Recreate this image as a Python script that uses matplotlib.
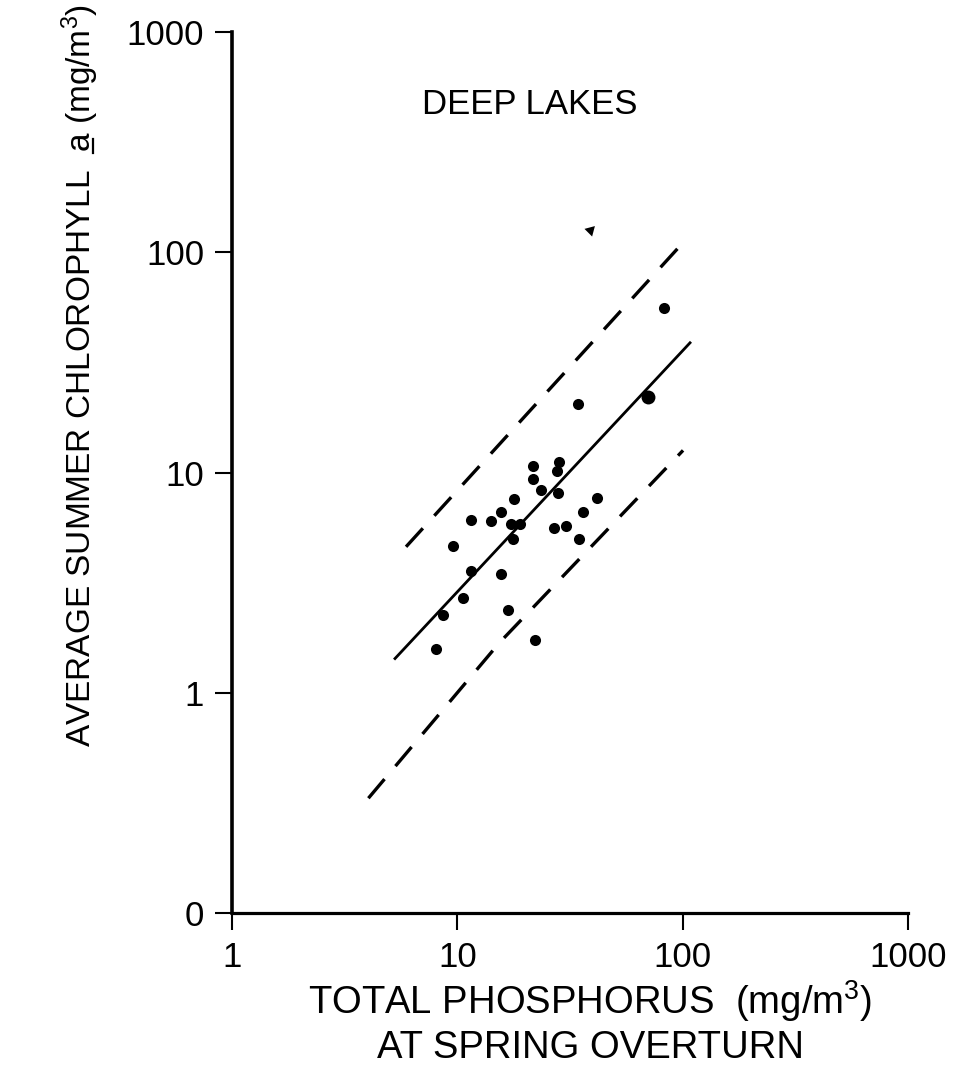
import numpy as np
import matplotlib.pyplot as plt
from matplotlib.lines import Line2D

plt.rcParams['font.family'] = ['Liberation Sans', 'DejaVu Sans']
plt.rcParams['mathtext.fontset'] = 'custom'
plt.rcParams['mathtext.rm'] = 'Liberation Sans'
plt.rcParams['mathtext.it'] = 'Liberation Sans'

# lake data: total phosphorus vs summer chlorophyll a
tp = [34.4, 70.0, 83.0, 21.6, 28.4, 27.6, 21.6, 23.5, 28.1, 41.6, 17.9, 15.6,
      36.3, 11.5, 14.1, 17.3, 18.9, 26.9, 30.4, 34.8, 17.6, 9.54, 11.5, 15.6,
      10.6, 8.67, 16.8, 8.04, 22.1]
chl = [20.4, 22.1, 56.1, 10.7, 11.2, 10.2, 9.3, 8.3, 8.04, 7.7, 7.6, 6.63,
       6.59, 6.08, 6.0, 5.83, 5.83, 5.57, 5.71, 5.0, 4.97, 4.65, 3.58, 3.46,
       2.70, 2.25, 2.37, 1.58, 1.73]
point_size = [8, 10, 8, 8, 8, 8, 8, 8, 8, 8, 8, 8, 8, 8, 8, 8, 8, 8, 8, 8,
              8, 8, 8, 8, 8, 8, 8, 8, 8]

# off-scale marker
arrow_tp, arrow_chl = 38.8, 126

# regression line and hand-drawn confidence band
fit_tp = [5.29, 107.8]
fit_chl = [1.43, 38.8]
upper_tp = [5.92, 100.7]
upper_chl = [4.60, 111]
lower_tp = [4.03, 15.4, 100.4]
lower_chl = [0.332, 1.69, 12.6]

ticks = [0.1, 1, 10, 100, 1000]
ytick_labels = ['0', '1', '10', '100', '1000']
xticks = [1, 10, 100, 1000]
xtick_labels = ['1', '10', '100', '1000']

ylab_pre = 'AVERAGE SUMMER CHLOROPHYLL  '
ylab_a = 'a'
ylab_post = ' (mg/m$^3$)'

fig = plt.figure(figsize=(9.63, 10.88), dpi=100)
ax = fig.add_axes([232 / 963, 1 - 913 / 1088, (908 - 232) / 963, (913 - 32) / 1088])
ax.set_xscale('log')
ax.set_yscale('log')
ax.set_xlim(1, 1000)
ax.set_ylim(0.1, 1000)

for x, y, s in zip(tp, chl, point_size):
    ax.plot(x, y, 'o', color='black', markersize=s, markeredgewidth=0)
ax.plot(arrow_tp, arrow_chl, marker=(3, 0, 75), color='black', markersize=9,
        markeredgewidth=0)

dash = (0, (7.5, 5.1))
ax.plot(fit_tp, fit_chl, color='black', lw=2)
ax.plot(upper_tp, upper_chl, color='black', lw=2.4, ls=dash)
ax.plot(lower_tp, lower_chl, color='black', lw=2.4, ls=dash)

ax.text(21, 470, 'DEEP LAKES', fontsize=25, ha='center', va='center')

ax.spines['top'].set_visible(False)
ax.spines['right'].set_visible(False)
ax.spines['left'].set_linewidth(2.6)
ax.spines['bottom'].set_linewidth(2.3)
ax.set_xticks(xticks)
ax.set_xticklabels(xtick_labels)
ax.set_yticks(ticks)
ax.set_yticklabels(ytick_labels)
ax.minorticks_off()
ax.tick_params(axis='both', length=12, width=1.5, labelsize=25)
ax.tick_params(axis='y', pad=8)
ax.tick_params(axis='x', pad=8)

# y label with underlined "a"
ylab_x, ylab_y, ylab_fs = 80, 1088 * 0.655, 24
full = ylab_pre + ylab_a + ylab_post
t = fig.text(ylab_x / 963, ylab_y / 1088, full, rotation=90, fontsize=ylab_fs,
             ha='center', va='center')
r = fig.canvas.get_renderer()
w_full = fig.text(0, 0, full, fontsize=ylab_fs).get_window_extent(r).width
w_pre = fig.text(0, 0, ylab_pre, fontsize=ylab_fs).get_window_extent(r).width
w_a = fig.text(0, 0, ylab_pre + ylab_a, fontsize=ylab_fs).get_window_extent(r).width
for tx in fig.texts[1:]:
    tx.remove()
bottom = ylab_y - w_full / 2
ux = ylab_x + 13
fig.add_artist(Line2D([ux / 963, ux / 963],
                      [(bottom + w_pre + 2) / 1088, (bottom + w_a - 2) / 1088],
                      transform=fig.transFigure, color='black', lw=1.6))

fig.text(0.613, 0.08, r'TOTAL PHOSPHORUS  (mg/m$^3$)', fontsize=27.5,
         ha='center', va='center')
fig.text(0.613, 0.037, 'AT SPRING OVERTURN', fontsize=27.5, ha='center',
         va='center')

fig.savefig('out.png', dpi=100)
